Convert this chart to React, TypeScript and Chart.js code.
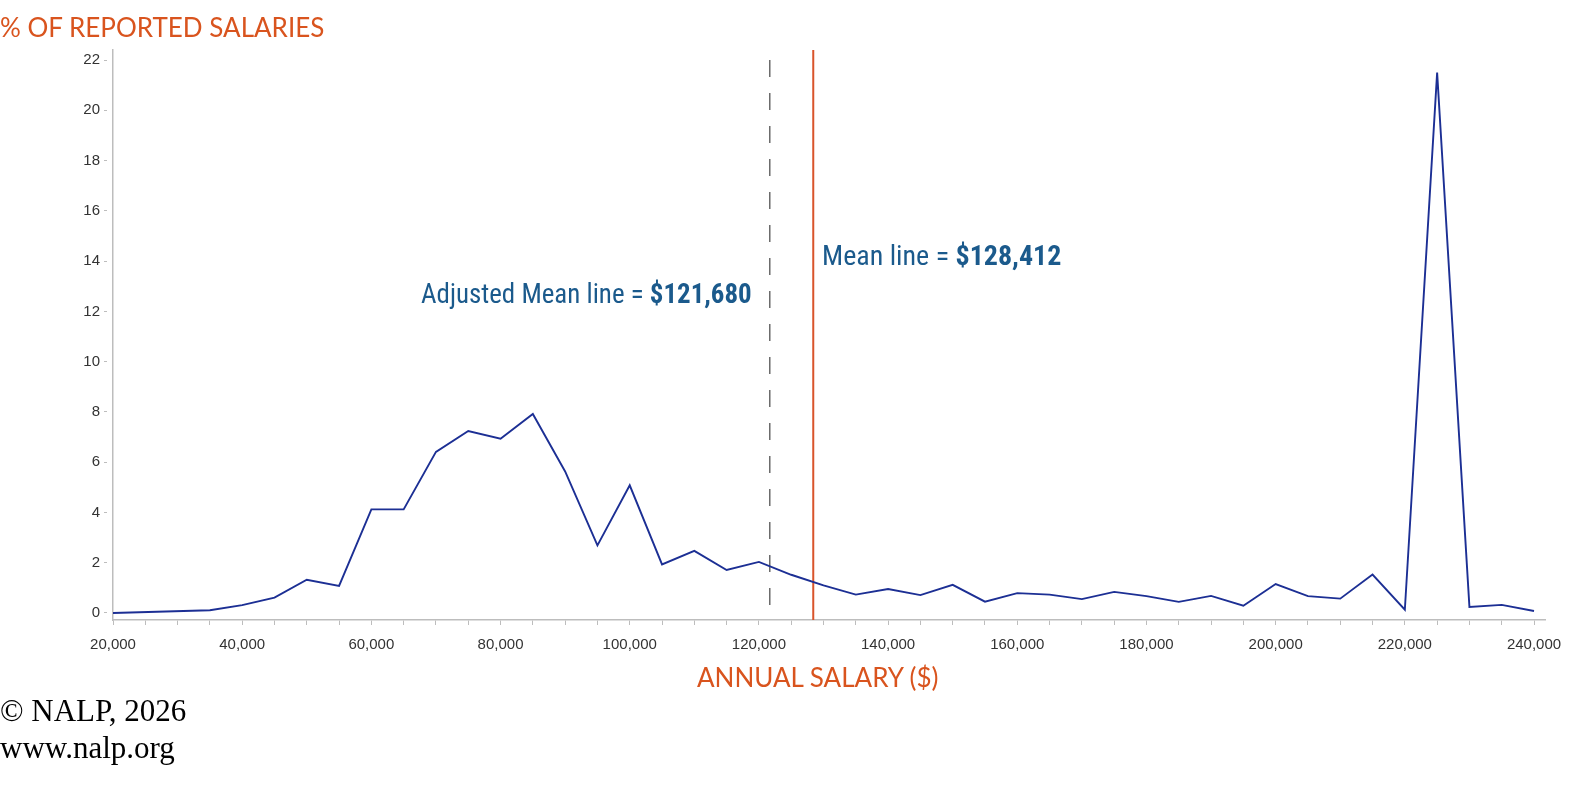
import { useEffect, useRef } from 'react';
import { Chart, registerables } from 'chart.js';

Chart.register(...registerables);

// salary buckets ($) and share of reported salaries (%)
const salaries = [
  20000, 35000, 40000, 45000, 50000, 55000, 60000, 65000, 70000, 75000, 80000, 85000,
  90000, 95000, 100000, 105000, 110000, 115000, 120000, 125000, 130000, 135000, 140000,
  145000, 150000, 155000, 160000, 165000, 170000, 175000, 180000, 185000, 190000, 195000,
  200000, 205000, 210000, 215000, 220000, 225000, 230000, 235000, 240000,
];
const percents = [
  0.0, 0.11, 0.31, 0.61, 1.32, 1.08, 4.12, 4.12, 6.41, 7.24, 6.93, 7.92,
  5.63, 2.69, 5.08, 1.93, 2.47, 1.71, 2.03, 1.52, 1.1, 0.73, 0.95,
  0.71, 1.12, 0.45, 0.79, 0.73, 0.55, 0.84, 0.67, 0.44, 0.68, 0.29,
  1.15, 0.67, 0.57, 1.53, 0.13, 21.5, 0.24, 0.32, 0.08,
];
const yTicks = [0, 2, 4, 6, 8, 10, 12, 14, 16, 18, 20, 22];

const adjustedMean = 121680;
const mean = 128412;

const Y_MIN = -0.28;
const Y_MAX = 22.4;

const ORANGE = '#d9541e';
const BLUE_TEXT = '#1b5a8c';
const AXIS_GREY = '#bdbdbd';

export default function App() {
  const canvasRef = useRef<HTMLCanvasElement>(null);

  useEffect(() => {
    if (!canvasRef.current) return;

    const chart = new Chart(canvasRef.current, {
      type: 'line',
      data: {
        datasets: [
          {
            label: 'Salaries',
            data: salaries.map((s, i) => ({ x: s, y: percents[i] })),
            borderColor: '#1c2f94',
            borderWidth: 1.9,
            pointRadius: 0,
            tension: 0,
          },
          {
            label: 'Adjusted mean',
            data: [
              { x: adjustedMean, y: 22 },
              { x: adjustedMean, y: Y_MIN },
            ],
            borderColor: '#6b6b6b',
            borderWidth: 1.5,
            borderDash: [17, 16],
            pointRadius: 0,
          },
          {
            label: 'Mean',
            data: [
              { x: mean, y: Y_MAX },
              { x: mean, y: Y_MIN },
            ],
            borderColor: '#d9542b',
            borderWidth: 2,
            pointRadius: 0,
          },
        ],
      },
      options: {
        animation: false,
        responsive: false,
        maintainAspectRatio: false,
        layout: { padding: { left: 0, top: 50, right: 28, bottom: 135 } },
        plugins: {
          legend: { display: false },
          tooltip: { enabled: false },
        },
        scales: {
          x: {
            type: 'linear',
            min: 20000,
            max: 241700,
            afterFit: (scale) => {
              scale.height = 40;
            },
            afterBuildTicks: (scale) => {
              const ticks = [];
              for (let v = 20000; v <= 240000; v += 5000) ticks.push({ value: v });
              scale.ticks = ticks;
            },
            border: { color: AXIS_GREY, width: 1.5 },
            grid: {
              drawOnChartArea: false,
              drawTicks: true,
              tickLength: 5,
              tickColor: AXIS_GREY,
              tickWidth: 1,
            },
            ticks: {
              autoSkip: false,
              maxRotation: 0,
              padding: 11,
              color: '#333333',
              font: { family: 'Liberation Sans, Arial, sans-serif', size: 15 },
              callback: (value) => {
                const v = Number(value);
                return v % 20000 === 0 ? v.toLocaleString('en-US') : '';
              },
            },
          },
          y: {
            type: 'linear',
            min: Y_MIN,
            max: Y_MAX,
            afterFit: (scale) => {
              scale.width = 113;
            },
            afterBuildTicks: (scale) => {
              scale.ticks = yTicks.map((v) => ({ value: v }));
            },
            border: { color: AXIS_GREY, width: 1.5 },
            grid: {
              drawOnChartArea: false,
              drawTicks: true,
              tickLength: 9,
              tickColor: AXIS_GREY,
              tickWidth: 1,
              tickBorderDash: [3, 6],
            },
            ticks: {
              padding: 4,
              color: '#333333',
              font: { family: 'Liberation Sans, Arial, sans-serif', size: 15 },
            },
          },
        },
      },
    });

    return () => {
      chart.destroy();
    };
  }, []);

  const label: React.CSSProperties = {
    position: 'absolute',
    whiteSpace: 'nowrap',
    lineHeight: 1,
    color: BLUE_TEXT,
    fontFamily: '"Liberation Sans Narrow", "Roboto Condensed", "DejaVu Sans Condensed", Roboto, sans-serif',
    fontSize: 28,
    transformOrigin: 'left top',
  };
  const title: React.CSSProperties = {
    position: 'absolute',
    whiteSpace: 'nowrap',
    lineHeight: 1,
    color: ORANGE,
    fontFamily: 'Lato, "Noto Sans", sans-serif',
    fontSize: 26,
  };
  const footer: React.CSSProperties = {
    position: 'absolute',
    left: 0,
    whiteSpace: 'nowrap',
    lineHeight: 1,
    color: '#000',
    fontFamily: '"Liberation Serif", "DejaVu Serif", serif',
    fontSize: 31,
  };

  return (
    <div style={{ position: 'absolute', left: 0, top: 0, width: 1573, height: 795, background: '#fff', overflow: 'hidden' }}>
      <canvas ref={canvasRef} width={1573} height={795} style={{ position: 'absolute', left: 0, top: 0 }} />
      <div style={{ ...title, left: 0, top: 14 }}>% OF REPORTED SALARIES</div>
      <div style={{ ...title, left: 697, top: 664 }}>ANNUAL SALARY ($)</div>
      <div style={{ ...label, left: 421, top: 280, transform: 'scaleX(0.962)' }}>
        Adjusted Mean line = <b>$121,680</b>
      </div>
      <div style={{ ...label, left: 822, top: 242 }}>
        Mean line = <b>$128,412</b>
      </div>
      <div style={{ ...footer, top: 695 }}>© NALP, 2026</div>
      <div style={{ ...footer, top: 732 }}>www.nalp.org</div>
    </div>
  );
}
